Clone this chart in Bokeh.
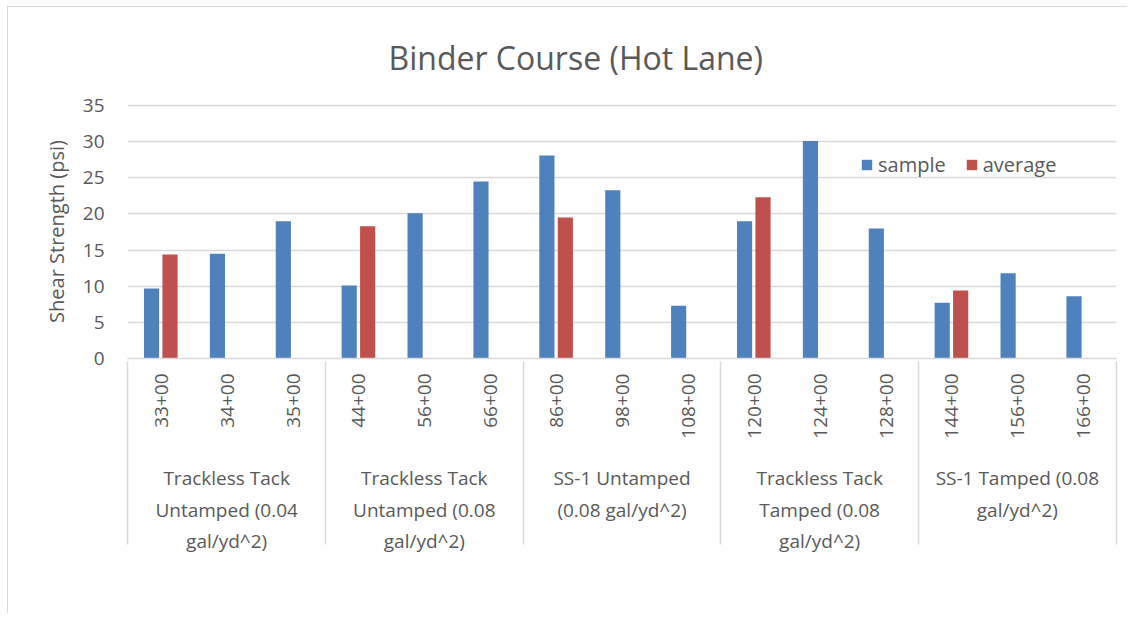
import math
from bokeh.plotting import figure
from bokeh.models import FactorRange, ColumnDataSource, Legend, FixedTicker
from bokeh.transform import dodge
from bokeh.embed import file_html
from bokeh.resources import INLINE

# ---- data ----
title_text = "Binder Course (Hot Lane)"
groups = [
    "Trackless Tack\nUntamped (0.04\ngal/yd^2)",
    "Trackless Tack\nUntamped (0.08\ngal/yd^2)",
    "SS-1 Untamped\n(0.08 gal/yd^2)",
    "Trackless Tack\nTamped (0.08\ngal/yd^2)",
    "SS-1 Tamped (0.08\ngal/yd^2)",
]
stations = [
    ["33+00", "34+00", "35+00"],
    ["44+00", "56+00", "66+00"],
    ["86+00", "98+00", "108+00"],
    ["120+00", "124+00", "128+00"],
    ["144+00", "156+00", "166+00"],
]
sample = [9.7, 14.5, 19.0, 10.1, 20.1, 24.5, 28.1, 23.3, 7.3,
          19.0, 30.1, 18.0, 7.7, 11.8, 8.6]
average = [14.4, 18.3, 19.5, 22.3, 9.4]   # shown at first station of each group
y_ticks = [0, 5, 10, 15, 20, 25, 30, 35]

TXT = "#595959"
GRID = "#D9D9D9"
FONT = "Open Sans"
PAD = "\u00a0\u00a0\u00a0"   # leading blanks: widen the station label band (spacing only)

factors = [(g, PAD + s) for g, sts in zip(groups, stations) for s in sts]
avg_factors = [(g, PAD + sts[0]) for g, sts in zip(groups, stations)]

src_s = ColumnDataSource(dict(x=factors, y=sample))
src_a = ColumnDataSource(dict(x=avg_factors, y=average))

# hidden edge groups (cropped away by negative padding) so that the axis
# also draws separators at both ends of the category box
all_factors = [(" ", " ")] + factors + [("  ", "  ")]
xr = FactorRange(*all_factors, group_padding=0, factor_padding=0,
                 range_padding=-0.995, range_padding_units="absolute")

p = figure(x_range=xr, y_range=(0, 35.15), width=1120, height=607,
           output_backend="svg", toolbar_location=None,
           min_border_left=119, min_border_right=12,
           min_border_top=97, min_border_bottom=256,
           title=title_text)
p.styles = {"border-top": "1px solid #D9D9D9", "border-left": "1px solid #D9D9D9",
            "margin-left": "7px", "margin-top": "6px"}

p.title.align = "left"
p.title.offset = 261
p.title.text_font = FONT
p.title.text_font_size = "32px"
p.title.text_font_style = "normal"
p.title.text_color = TXT
p.title.standoff = 51

r1 = p.vbar(x=dodge("x", -0.14, range=xr), top="y", width=0.23, source=src_s,
            fill_color="#4F81BD", line_color=None)
r2 = p.vbar(x=dodge("x", 0.14, range=xr), top="y", width=0.23, source=src_a,
            fill_color="#C0504D", line_color=None)

p.outline_line_color = None
p.xgrid.grid_line_color = None
p.ygrid.grid_line_color = GRID
p.ygrid.grid_line_width = 1.5

xa = p.xaxis[0]
xa.axis_line_color = GRID
xa.axis_line_width = 1.5
xa.major_tick_line_color = None
xa.minor_tick_line_color = None
xa.major_label_orientation = math.pi / 2
xa.major_label_standoff = 9
xa.major_label_text_font = FONT
xa.major_label_text_font_size = "19px"
xa.major_label_text_color = TXT
xa.group_text_font = FONT
xa.group_text_font_size = "19px"
xa.group_text_font_style = "normal"
xa.group_text_color = TXT
xa.group_text_line_height = 1.2
xa.separator_line_color = GRID
xa.separator_line_width = 1.5

ya = p.yaxis[0]
ya.ticker = FixedTicker(ticks=y_ticks)
ya.axis_line_color = None
ya.major_tick_line_color = None
ya.minor_tick_line_color = None
ya.major_label_standoff = 17
ya.major_label_text_font = FONT
ya.major_label_text_font_size = "19px"
ya.major_label_text_color = TXT
ya.axis_label = "Shear Strength (psi)"
ya.axis_label_text_font = FONT
ya.axis_label_text_font_size = "20px"
ya.axis_label_text_font_style = "normal"
ya.axis_label_text_color = TXT
ya.axis_label_standoff = 10

legend = Legend(items=[("sample", [r1]), ("average", [r2])],
                orientation="horizontal", location=(733, 180),
                border_line_color=None, background_fill_alpha=0,
                label_text_font=FONT, label_text_font_size="20px",
                label_text_color=TXT, glyph_width=13, glyph_height=13,
                spacing=19, padding=0, margin=0, label_standoff=5)
p.add_layout(legend)

open("out.html", "w").write(file_html(p, INLINE))
